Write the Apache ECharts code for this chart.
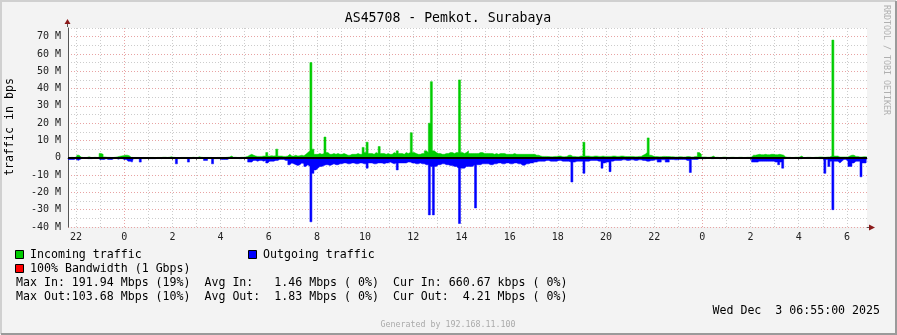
<!DOCTYPE html>
<html><head><meta charset="utf-8">
<script src="https://cdn.jsdelivr.net/npm/echarts@6/dist/echarts.min.js"></script>
<style>html,body{margin:0;padding:0;background:#f3f3f3}#c{width:897px;height:335px}</style>
</head><body><div id="c"></div>
<script>
// 5-minute samples, 2025-12-01 21:40 .. 2025-12-03 06:50
const startUTC = Date.UTC(2025, 11, 1, 21, 40);
const stepMinutes = 5;
// Incoming traffic (Mbps)
const incoming = [
0.2,0.2,0.3,0.2,0.3,1.5,0.4,0.2,0.2,0.2, 0.6,0.2,0.2,0.3,0.2,0.3,2.5,2.0,0.5,0.3,
0.3,0.2,0.2,0.3,0.5,0.8,1.0,1.2,1.5,1.5, 1.2,0.3,0.2,0.2,0.2,0.2,0.1,0.2,0.1,0.2,
0.2,0.2,0.2,0.1,0.2,0.2,0.2,0.3,0.3,0.2, 0.3,0.6,0.3,0.2,0.1,0.1,0.2,0.2,0.2,0.2,
0.2,0.2,0.3,0.2,0.2,0.6,0.3,0.2,0.2,0.2, 0.2,0.2,0.1,0.1,0.2,0.2,0.2,0.2,0.2,0.3,
0.5,1.0,0.3,0.3,0.2,0.2,0.3,0.3,0.5,0.8, 1.5,2.0,1.5,1.0,0.8,0.8,0.8,1.0,1.0,3.0,
1.0,1.2,1.0,1.2,5.0,1.0,1.0,0.8,0.8,1.0, 2.0,1.0,1.0,1.5,1.0,1.2,1.5,1.2,2.0,3.0,
4.0,55,5.0,2.0,2.0,2.5,2.0,2.5,12,3.0, 2.0,2.0,2.5,2.0,2.5,2.0,2.0,2.5,2.0,1.5,
1.5,2.0,2.0,2.0,2.5,2.0,2.0,6.0,3.0,9.0, 2.5,2.5,2.0,3.0,2.5,6.5,2.5,2.5,2.0,2.5,
2.0,2.0,3.0,2.5,4.0,2.5,2.5,2.0,3.0,2.5, 3.0,14.5,3.0,2.5,2.0,2.0,2.5,2.5,4.0,3.0,
20,44,4,3,2.5,2.5,2,2,2.5,2.5, 3,3,2.5,3,3,45,3,2.5,3,4,
2.5,2.5,2.5,2.5,2.5,3,3,2.5,2.5,2.5, 2.5,2.5,2,2.5,2,2.5,2.5,2.5,2,2,
2,2,2.5,2,2,2,2,2,2,2, 2,2,2,1.5,1.5,1.0,0.8,0.8,0.8,0.7,
0.6,0.6,0.8,0.8,1.0,1.0,0.6,0.6,0.8,1.5, 1.5,0.8,0.8,0.6,0.6,1.0,1.0,9,1.0,1.0,
0.8,0.8,1.0,1.0,0.8,0.8,1.0,0.8,0.8,0.8, 0.8,1.0,1.0,0.8,0.8,1.0,1.0,0.8,0.7,0.7,
0.8,0.8,0.6,0.6,0.8,0.8,1.5,2.0,3.0,11.5, 1.5,1.0,0.7,0.7,0.6,0.6,0.8,0.8,0.7,0.7,
0.6,0.6,0.5,0.5,0.6,0.6,0.5,0.5,0.7,0.7, 0.5,0.5,0.8,0.8,3.0,2.0,0.5,0.5,0.3,0.3,
0.5,1.0,0.3,0.3,0.2,0.2,0.4,0.4,0.2,0.2, 0.3,0.3,0.2,0.2,0.3,0.3,0.2,0.2,0.3,0.3,
0.5,1.5,1.5,1.8,2.0,1.8,1.8,2.0,1.8,1.8, 2.0,2.0,1.8,1.8,2.0,1.8,1.5,0.5,0.3,0.3,
0.2,0.2,0.3,0.3,0.5,1.0,0.2,0.2,0.3,0.3, 0.2,0.2,0.3,0.3,0.5,0.5,0.3,0.3,0.5,0.5,
1.0,68,1.0,1.0,0.5,0.5,0.5,0.5,0.5,1.0, 1.5,1.5,0.8,0.8,0.5,0.5,0.6,0.6,0.5
];
// Outgoing traffic (Mbps, drawn below zero)
const outgoing = [
-1.0,-1.0,-1.0,-1.0,-0.5,-1.5,-1.0,-0.3,-0.3,-0.3, -0.5,-0.5,-0.5,-0.3,-0.3,-0.3,-1.0,-1.0,-1.0,-0.5,
-1.0,-1.0,-1.0,-0.3,-0.3,-0.8,-0.5,-0.5,-1.0,-1.0, -2.0,-2.0,-2.5,-0.5,-0.5,-0.5,-2.5,-0.5,-0.5,-0.3,
-0.5,-0.5,-0.5,-0.5,-0.3,-0.3,-0.5,-0.3,-0.2,-0.2, -0.3,-0.3,-0.3,-0.3,-3.5,-0.5,-0.3,-0.3,-0.3,-0.3,
-2.5,-0.5,-0.3,-0.3,-0.3,-0.3,-0.3,-0.3,-1.5,-1.5, -0.3,-0.3,-3.5,-0.5,-0.5,-0.5,-1.0,-1.0,-1.0,-1.0,
-0.3,-0.3,-0.3,-0.3,-0.3,-0.5,-0.5,-0.3,-0.3,-0.3, -2.5,-2.5,-1.5,-1.5,-2.0,-1.5,-1.5,-2.0,-1.5,-3.0,
-2.0,-2.0,-2.0,-1.5,-1.5,-1.0,-1.0,-1.0,-1.5,-1.5, -4.0,-3.0,-3.5,-4.0,-4.5,-4.0,-3.0,-3.5,-5.0,-4.0,
-5.0,-37,-9.0,-7.0,-6.0,-5.0,-5.0,-4.5,-4.0,-4.0, -4.5,-4.0,-3.5,-4.0,-4.0,-3.5,-3.5,-3.0,-3.0,-3.5,
-3.5,-3.0,-3.0,-3.5,-3.5,-3.0,-3.0,-3.5,-3.5,-6.0, -3.0,-3.0,-3.5,-3.5,-3.0,-3.0,-3.0,-3.5,-3.0,-3.0,
-2.5,-3.0,-3.5,-3.0,-7.0,-3.0,-3.0,-3.0,-3.0,-2.5, -2.5,-3.0,-3.0,-3.5,-3.5,-3.0,-3.5,-3.5,-4.0,-4.0,
-33,-5,-33,-5,-4,-4,-3.5,-3.5,-4,-4, -4.5,-4.5,-5,-5,-6,-38,-6,-6,-5,-5,
-5,-5,-4,-29,-4,-4,-3.5,-3.5,-3.5,-3.5, -4,-4,-3.5,-3.5,-3,-3,-3.5,-3.5,-3,-3,
-3.5,-3.5,-3,-3,-3.5,-3.5,-4.3,-4.3,-3.5,-3.5, -3,-3,-2.5,-2.5,-2,-2,-2,-2,-1.5,-1.5,
-2,-2,-2,-2,-1.5,-1.5,-2,-2,-2,-2, -2.5,-14,-2.5,-2,-2,-2,-2,-9,-2,-2,
-1.5,-1.5,-1.5,-1.5,-2,-2,-6,-3,-2.5,-2.5, -8,-2,-1.5,-1.5,-1.5,-1.5,-1.2,-1.2,-1.5,-1.5,
-1.2,-1.2,-1.5,-1.5,-1.2,-1.2,-1.5,-1.5,-2,-2, -1.5,-1.5,-1.2,-1.2,-2.5,-2.5,-1.2,-1.2,-2.5,-2.5,
-1.0,-1.0,-1.2,-1.2,-1.0,-1.0,-1.0,-1.0,-1.5,-1.5, -8.5,-1.0,-1.0,-1.0,-0.5,-0.5,-0.5,-0.5,-0.3,-0.3,
-0.5,-0.5,-0.3,-0.3,-0.5,-0.5,-0.3,-0.3,-0.5,-0.5, -0.3,-0.3,-0.2,-0.2,-0.3,-0.3,-0.2,-0.2,-0.3,-0.3,
-0.5,-2.5,-2.5,-2.5,-2,-2,-2,-2,-2,-2, -2,-2,-2.5,-2.5,-4,-2.5,-6,-0.5,-0.3,-0.3,
-0.3,-0.3,-0.3,-0.3,-0.5,-0.5,-0.3,-0.3,-0.3,-0.3, -0.3,-0.3,-0.3,-0.3,-0.5,-0.5,-0.5,-9,-1.0,-5,
-2,-30,-2,-2,-3,-2,-1,-1,-2,-5, -5,-3,-2,-2,-2,-11,-3,-3,-2
];
const yMin = -40, yMax = 75, yStep = 5;
const titleText = 'AS45708 - Pemkot. Surabaya';
const yTitle = 'traffic in bps';
const legendLines = [
  'Max In: 191.94 Mbps (19%)  Avg In:   1.46 Mbps ( 0%)  Cur In: 660.67 kbps ( 0%)',
  'Max Out:103.68 Mbps (10%)  Avg Out:  1.83 Mbps ( 0%)  Cur Out:  4.21 Mbps ( 0%)'
];
const dateText = 'Wed Dec  3 06:55:00 2025';
const footText = 'Generated by 192.168.11.100';
const sideText = 'RRDTOOL / TOBI OETIKER';

const pad = n => (n < 10 ? '0' : '') + n;
const categories = incoming.map((_, i) => {
  const d = new Date(startUTC + i * stepMinutes * 60000);
  return pad(d.getUTCMonth()+1) + '-' + pad(d.getUTCDate()) + ' ' + pad(d.getUTCHours()) + ':' + pad(d.getUTCMinutes());
});
const isHour = (i, v) => v.endsWith(':00');
const isEvenHour = (i, v) => v.endsWith(':00') && (+v.slice(6, 8)) % 2 === 0;

const FONT = '"DejaVu Sans Mono", monospace';
const RED = '#e8a3a3', GREY = '#cccccc';
const vColors = []; for (let k = 0; k < 24; k++) vColors.push(k === 2 ? RED : GREY);

const chart = echarts.init(document.getElementById('c'), null, {renderer: 'canvas'});
const txt = (text, x, y, size, fill) => ({
  type: 'text', x: x, y: y, silent: true,
  style: {text: text, fontFamily: FONT, fontSize: size, fill: fill, align: 'left', verticalAlign: 'middle'}
});
const box = (x, y, color) => ({type: 'rect', silent: true, shape: {x: x + 0.5, y: y + 0.5, width: 8, height: 8},
  style: {fill: color, stroke: '#000', lineWidth: 1}});

chart.setOption({
  animation: false,
  backgroundColor: '#f3f3f3',
  textStyle: {fontFamily: FONT},
  grid: {left: 68, right: 30, top: 28, bottom: 108, show: true, backgroundColor: '#ffffff', borderWidth: 0},
  xAxis: {
    type: 'category', data: categories, boundaryGap: false,
    axisLine: {show: true, lineStyle: {color: '#555', width: 1}},
    axisTick: {show: true, interval: isHour, length: 2, lineStyle: {color: '#555'}},
    axisLabel: {interval: isEvenHour, formatter: v => String(+v.slice(6, 8)), fontFamily: FONT, fontSize: 10, color: '#222', margin: 5},
    splitLine: {show: true, interval: isHour, lineStyle: {color: vColors, type: [1, 2], width: 1}}
  },
  yAxis: {
    type: 'value', min: yMin, max: yMax, interval: yStep,
    axisLine: {show: true, lineStyle: {color: '#555', width: 1}},
    axisTick: {show: false},
    axisLabel: {fontFamily: FONT, fontSize: 10, color: '#222', margin: 7,
      formatter: v => (v % 10 !== 0 ? '' : (v === 0 ? '0' : v + ' M'))},
    splitLine: {show: true, lineStyle: {color: [RED, GREY], type: [1, 2], width: 1}}
  },
  series: [
    {name: 'Incoming traffic', type: 'line', data: incoming, symbol: 'none', step: 'middle',
     lineStyle: {width: 0.5, color: '#00cc00'}, itemStyle: {color: '#00cc00'},
     areaStyle: {color: '#00cc00', opacity: 1}, z: 2},
    {name: 'Outgoing traffic', type: 'line', data: outgoing, symbol: 'none', step: 'middle',
     lineStyle: {width: 0.5, color: '#0000ff'}, itemStyle: {color: '#0000ff'},
     areaStyle: {color: '#0000ff', opacity: 1}, z: 2,
     markLine: {silent: true, symbol: 'none', label: {show: false},
       lineStyle: {color: '#000', width: 2, type: 'solid'}, data: [{yAxis: 0}]}}
  ],
  graphic: [
    {type: 'text', x: 448, y: 19, silent: true,
     style: {text: titleText, fontFamily: FONT, fontSize: 13.2, fill: '#000', align: 'center', verticalAlign: 'middle'}},
    {type: 'text', x: 10, y: 127, rotation: Math.PI / 2, silent: true,
     style: {text: yTitle, fontFamily: FONT, fontSize: 11.6, fill: '#000', align: 'center', verticalAlign: 'middle'}},
    {type: 'text', x: 886, y: 5, rotation: -Math.PI / 2, silent: true,
     style: {text: sideText, fontFamily: FONT, fontSize: 8.3, fill: '#b0b0b0', align: 'left', verticalAlign: 'middle'}},
    {type: 'line', silent: true, shape: {x1: 67.5, y1: 27, x2: 67.5, y2: 22}, style: {stroke: '#555', lineWidth: 1}},
    {type: 'line', silent: true, shape: {x1: 867, y1: 227.5, x2: 870, y2: 227.5}, style: {stroke: '#555', lineWidth: 1}},
    {type: 'polygon', silent: true, shape: {points: [[64.5, 24], [70.5, 24], [67.5, 19]]}, style: {fill: '#8b1a1a'}},
    {type: 'polygon', silent: true, shape: {points: [[869, 224.5], [869, 230.5], [875, 227.5]]}, style: {fill: '#8b1a1a'}},
    box(15, 250, '#00cc00'),
    txt('Incoming traffic', 30, 254.5, 11.6, '#000'),
    box(248, 250, '#0000ff'),
    txt('Outgoing traffic', 263, 254.5, 11.6, '#000'),
    box(15, 264, '#ff0000'),
    txt('100% Bandwidth (1 Gbps)', 30, 268.5, 11.6, '#000'),
    txt(legendLines[0], 16, 282.5, 11.6, '#000'),
    txt(legendLines[1], 16, 296.5, 11.6, '#000'),
    {type: 'text', x: 880, y: 310.5, silent: true,
     style: {text: dateText, fontFamily: FONT, fontSize: 11.6, fill: '#000', align: 'right', verticalAlign: 'middle'}},
    {type: 'text', x: 448, y: 324.5, silent: true,
     style: {text: footText, fontFamily: FONT, fontSize: 8.3, fill: '#aaaaaa', align: 'center', verticalAlign: 'middle'}},
    {type: 'polyline', silent: true, shape: {points: [[1, 334], [1, 1], [896, 1]]}, style: {stroke: '#d0d0d0', lineWidth: 2, fill: null}},
    {type: 'polyline', silent: true, shape: {points: [[1, 334], [896, 334], [896, 1]]}, style: {stroke: '#9a9a9a', lineWidth: 2, fill: null}}
  ]
});
</script></body></html>
